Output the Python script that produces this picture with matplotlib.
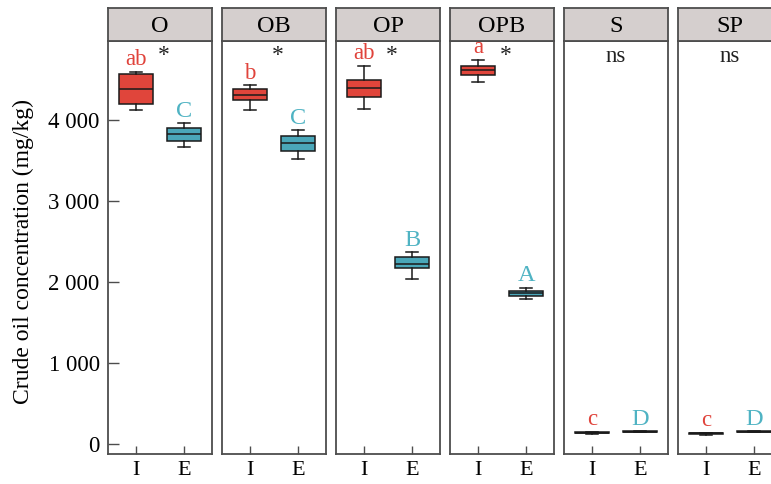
import matplotlib
matplotlib.use("Agg")
import matplotlib.pyplot as plt

plt.rcParams['font.family'] = ['Liberation Serif', 'DejaVu Serif']

groups = ["O", "OB", "OP", "OPB", "S", "SP"]
tick_labels = ["I", "E"]

# I (red) boxes: whisker low, q1, median, q3, whisker high
I_whislo = [4123, 4120, 4136, 4473, 122, 112]
I_q1 = [4198, 4247, 4288, 4552, 132, 124]
I_med = [4383, 4309, 4399, 4613, 140, 132]
I_q3 = [4568, 4379, 4494, 4670, 146, 138]
I_whishi = [4593, 4428, 4667, 4741, 150, 142]

# E (teal) boxes
E_whislo = [3670, 3522, 2041, 1790, 149, 149]
E_q1 = [3741, 3621, 2169, 1831, 151, 151]
E_med = [3823, 3720, 2226, 1860, 153, 153]
E_q3 = [3905, 3802, 2305, 1893, 155, 155]
E_whishi = [3963, 3872, 2367, 1930, 157, 157]

I_letters = ["ab", "b", "ab", "a", "c", "c"]
E_letters = ["C", "C", "B", "A", "D", "D"]
sig = ["*", "*", "*", "*", "ns", "ns"]

red = "#e0453b"
teal = "#4aa7b9"
red_txt = "#e0433b"
teal_txt = "#4fb3c3"
frame = "#4d4d4d"

W, H = 771, 484
fig = plt.figure(figsize=(W / 100, H / 100), dpi=100)

left0 = 108   # px of first panel
step = 114
pw = 104
top = 41
bottom = 454
strip_top = 8

for i, g in enumerate(groups):
    x0 = left0 + i * step
    ax = fig.add_axes([x0 / W, 1 - bottom / H, pw / W, (bottom - top) / H])
    stats = [
        dict(whislo=I_whislo[i], q1=I_q1[i], med=I_med[i], q3=I_q3[i], whishi=I_whishi[i], fliers=[]),
        dict(whislo=E_whislo[i], q1=E_q1[i], med=E_med[i], q3=E_q3[i], whishi=E_whishi[i], fliers=[]),
    ]
    bp = ax.bxp(stats, positions=[0, 1], widths=0.7, patch_artist=True, showfliers=False,
                boxprops=dict(edgecolor="#1a1a1a", linewidth=1.1),
                medianprops=dict(color="#1a1a1a", linewidth=1.1),
                whiskerprops=dict(color="#1a1a1a", linewidth=1.1),
                capprops=dict(color="#1a1a1a", linewidth=1.1),
                capwidths=0.26)
    bp['boxes'][0].set_facecolor(red)
    bp['boxes'][1].set_facecolor(teal)

    ax.text(0, I_whishi[i] + 80, I_letters[i], color=red_txt, ha='center', va='baseline', fontsize=16.5)
    ax.text(1, E_whishi[i] + 80, E_letters[i], color=teal_txt, ha='center', va='baseline', fontsize=17.5)
    if sig[i] == "*":
        ax.text(0.58, 4730, "*", ha='center', va='baseline', fontsize=17, color="#222222")
    else:
        ax.text(0.5, 4716, "ns", ha='center', va='baseline', fontsize=16.5, color="#222222")

    ax.set_xlim(-0.58, 1.58)
    ax.set_ylim(-123, 4975)
    ax.set_xticks([0, 1])
    ax.set_xticklabels(tick_labels)
    ax.tick_params(axis='x', direction='in', length=6, width=1, color=frame, pad=5, labelsize=16)
    ax.set_yticks([0, 1000, 2000, 3000, 4000])
    if i == 0:
        ax.set_yticklabels(["0", "1 000", "2 000", "3 000", "4 000"])
        ax.tick_params(axis='y', direction='in', length=8, width=1, color=frame, pad=6, labelsize=16.5)
    else:
        ax.set_yticks([])
    for s in ax.spines.values():
        s.set_color(frame)
        s.set_linewidth(1.3)

    # strip on top of each panel
    sx = fig.add_axes([x0 / W, 1 - top / H, pw / W, (top - strip_top) / H])
    sx.set_facecolor("#d5cfce")
    sx.set_xticks([])
    sx.set_yticks([])
    for s in sx.spines.values():
        s.set_color(frame)
        s.set_linewidth(1.3)
    sx.text(0.5, 0.45, g, ha='center', va='center', fontsize=17.5, transform=sx.transAxes)

fig.text(23 / W, 1 - 252 / H, "Crude oil concentration (mg/kg)", rotation=90,
         ha='center', va='center', fontsize=17)

fig.savefig("out.png", dpi=100)
